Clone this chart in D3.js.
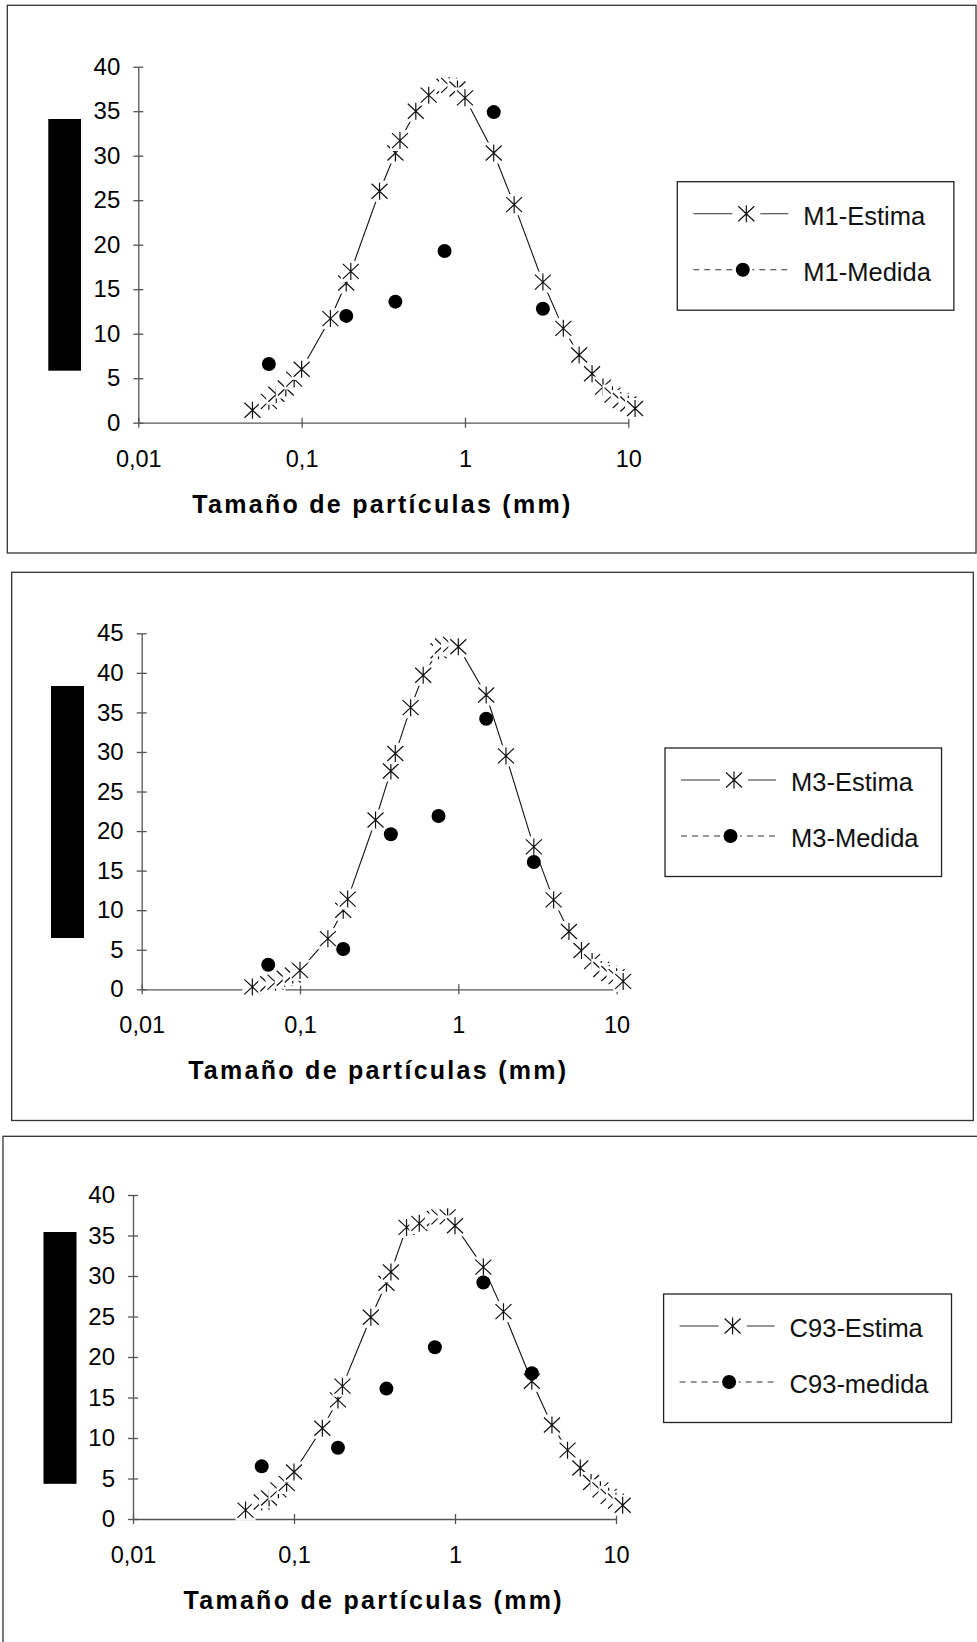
<!DOCTYPE html>
<html>
<head>
<meta charset="utf-8">
<script src="https://cdn.jsdelivr.net/npm/d3@7"></script>
<style>
  html, body { margin: 0; padding: 0; background: #fff; }
  svg { display: block; font-family: "Liberation Sans", Arial, sans-serif; }
</style>
</head>
<body>
<svg id="chart" width="977" height="1642"></svg>
<script>
// Particle sizes (mm) of the estimated distribution and of the sieve measurements
const sizesEstima = [0.05, 0.063, 0.07, 0.08, 0.09, 0.1, 0.15, 0.1875, 0.2, 0.3, 0.375, 0.4, 0.5, 0.6,
                     0.75, 0.8, 0.9, 1, 1.5, 2, 3, 4, 5, 6, 7, 8, 9, 10, 11];
const sizesMedida = [0.063, 0.1875, 0.375, 0.75, 1.5, 3];

// Sample M1
const m1Names  = ["M1-Estima", "M1-Medida"];
const m1Estima = [1.4, 2.4, 3.2, 3.9, 4.9, 6.0, 11.7, 15.7, 17.0, 26.0, 30.3, 31.7, 35.0, 36.8,
                  37.8, 37.9, 37.5, 36.5, 30.3, 24.5, 15.8, 10.6, 7.6, 5.5, 4.0, 3.1, 2.5, 2.1, 1.6];
const m1Medida = [6.6, 12.0, 13.6, 19.3, 34.9, 12.8];

// Sample M3
const m3Names  = ["M3-Estima", "M3-Medida"];
const m3Estima = [0.3, 0.7, 0.9, 1.4, 1.8, 2.4, 6.4, 10.0, 11.4, 21.4, 27.6, 29.8, 35.6, 39.7,
                  42.8, 43.4, 43.6, 43.3, 37.2, 29.5, 18.0, 11.3, 7.3, 4.9, 3.5, 2.5, 2.0, 1.6, 1.0];
const m3Medida = [3.1, 5.1, 19.6, 21.9, 34.2, 16.1];

// Sample C93
const c93Names  = ["C93-Estima", "C93-medida"];
const c93Estima = [1.1, 2.1, 2.6, 3.6, 4.4, 5.8, 11.2, 14.7, 16.4, 24.9, 29.1, 30.5, 36.0, 36.5,
                   37.1, 37.3, 37.3, 36.2, 31.1, 25.6, 17.0, 11.6, 8.5, 6.3, 4.5, 3.6, 2.8, 2.2, 1.7];
const c93Medida = [6.5, 8.8, 16.1, 21.2, 29.2, 18.0];

// Axis ticks
const xTickValues = [0.01, 0.1, 1, 10];
const xTickLabels = ["0,01", "0,1", "1", "10"];
const yTicks40 = [0, 5, 10, 15, 20, 25, 30, 35, 40];
const yTicks45 = [0, 5, 10, 15, 20, 25, 30, 35, 40, 45];
const xTitle = "Tamaño de partículas (mm)";

// Page layout of the three stacked charts
const panels = [
  { names: m1Names, estima: m1Estima, medida: m1Medida, yTicks: yTicks40,
    frame: { x0: 7.3, y0: 5.3, x1: 976, y1: 553 },
    plot: { left: 138.3, right: 628.3, top: 66.7, bottom: 422.7 },
    bar: { x: 48.3, y: 119, w: 32.7, h: 251.7 },
    legend: { x: 677.3, y: 181.7 } },
  { names: m3Names, estima: m3Estima, medida: m3Medida, yTicks: yTicks45,
    frame: { x0: 11.7, y0: 572.3, x1: 973.3, y1: 1120.5 },
    plot: { left: 141.7, right: 616.6, top: 633.3, bottom: 989.3 },
    bar: { x: 51, y: 686, w: 33, h: 252 },
    legend: { x: 665, y: 748 } },
  { names: c93Names, estima: c93Estima, medida: c93Medida, yTicks: yTicks40,
    frame: { x0: 3, y0: 1136.3, x1: 995, y1: 1665 },
    plot: { left: 133, right: 616, top: 1195, bottom: 1519 },
    bar: { x: 43.5, y: 1232, w: 33, h: 251.8 },
    legend: { x: 663.6, y: 1294 } }
];

// Star marker: an X crossed by a vertical bar
const starSymbol = {
  draw(ctx) {
    const a = 8, b = 7.5, c = 8.5;
    ctx.moveTo(-a, -b); ctx.lineTo(a, b);
    ctx.moveTo(-a, b);  ctx.lineTo(a, -b);
    ctx.moveTo(0, -c);  ctx.lineTo(0, c);
  }
};
const starPath = d3.symbol().type(starSymbol)();

const svg = d3.select("#chart");
const AXIS = "#555";
const INK = "#111";
const DOT_R = 7;

// Star with its white marker background, which hides whatever lies below it
function drawStar(g, cx, cy, bgW, bgH) {
  g.append("rect")
    .attr("x", cx - bgW / 2).attr("y", cy - bgH / 2)
    .attr("width", bgW).attr("height", bgH)
    .attr("fill", "#fff");
  g.append("path")
    .attr("d", starPath)
    .attr("transform", `translate(${cx},${cy})`)
    .attr("fill", "none").attr("stroke", INK).attr("stroke-width", 1.2);
}

panels.forEach(p => {
  const g = svg.append("g");

  // chart frame
  g.append("rect")
    .attr("x", p.frame.x0).attr("y", p.frame.y0)
    .attr("width", p.frame.x1 - p.frame.x0).attr("height", p.frame.y1 - p.frame.y0)
    .attr("fill", "none").attr("stroke", "#333").attr("stroke-width", 1.3);

  // vertical title block
  g.append("rect")
    .attr("x", p.bar.x).attr("y", p.bar.y)
    .attr("width", p.bar.w).attr("height", p.bar.h)
    .attr("fill", "#000");

  const yMax = p.yTicks[p.yTicks.length - 1];
  const x = d3.scaleLog().domain([0.01, 10]).range([p.plot.left, p.plot.right]);
  const y = d3.scaleLinear().domain([0, yMax]).range([p.plot.bottom, p.plot.top]);

  // y axis, ticks crossing the line
  const yAxis = g.append("g")
    .attr("transform", `translate(${p.plot.left},0)`)
    .call(d3.axisLeft(y).tickValues(p.yTicks).tickSize(5).tickSizeOuter(0).tickPadding(13));
  yAxis.select(".domain").attr("stroke", AXIS).attr("stroke-width", 1.3);
  yAxis.selectAll(".tick line").attr("x1", 5).attr("stroke", AXIS).attr("stroke-width", 1.3);
  yAxis.selectAll(".tick text")
    .attr("font-size", 24).attr("fill", "#000")
    .attr("font-family", "'Liberation Sans', Arial, sans-serif");

  // x axis (log), ticks crossing the line
  const xAxis = g.append("g")
    .attr("transform", `translate(0,${p.plot.bottom})`)
    .call(d3.axisBottom(x).tickValues(xTickValues)
      .tickFormat((d, i) => xTickLabels[i]).tickSize(5).tickSizeOuter(0));
  xAxis.select(".domain").attr("stroke", AXIS).attr("stroke-width", 1.3);
  xAxis.selectAll(".tick line").attr("y1", -5).attr("stroke", AXIS).attr("stroke-width", 1.3);
  xAxis.selectAll(".tick text")
    .attr("y", 44).attr("dy", 0)
    .attr("font-size", 23.5).attr("fill", "#000")
    .attr("font-family", "'Liberation Sans', Arial, sans-serif");

  // x axis title
  g.append("text")
    .attr("x", (p.plot.left + p.plot.right) / 2 - 2)
    .attr("y", p.plot.bottom + 90)
    .attr("text-anchor", "middle")
    .attr("font-size", 25).attr("font-weight", "bold")
    .attr("textLength", 378).attr("lengthAdjust", "spacing")
    .text(xTitle);

  // estimated curve
  const estPts = sizesEstima.map((s, i) => ({ s, v: p.estima[i] }));
  g.append("path")
    .datum(estPts)
    .attr("d", d3.line().x(d => x(d.s)).y(d => y(d.v)))
    .attr("fill", "none").attr("stroke", INK).attr("stroke-width", 1.1);

  const stars = g.append("g");
  estPts.forEach(d => drawStar(stars, x(d.s), y(d.v), 20, 21));

  // measured points
  const medPts = sizesMedida.map((s, i) => ({ s, v: p.medida[i] }));
  g.append("g").selectAll("circle")
    .data(medPts).join("circle")
    .attr("cx", d => x(d.s)).attr("cy", d => y(d.v))
    .attr("r", DOT_R).attr("fill", "#000");

  // legend
  const lg = g.append("g").attr("transform", `translate(${p.legend.x},${p.legend.y})`);
  const box = lg.append("rect")
    .attr("height", 128.5)
    .attr("fill", "#fff").attr("stroke", "#222").attr("stroke-width", 1.3);
  const rows = [32, 88];

  lg.append("line")
    .attr("x1", 16).attr("x2", 111).attr("y1", rows[0]).attr("y2", rows[0])
    .attr("stroke", "#333").attr("stroke-width", 1.1);
  drawStar(lg, 69, rows[0], 28, 20);

  lg.append("line")
    .attr("x1", 16).attr("x2", 111).attr("y1", rows[1]).attr("y2", rows[1])
    .attr("stroke", "#333").attr("stroke-width", 1.1).attr("stroke-dasharray", "6,5");
  lg.append("rect")
    .attr("x", 56).attr("y", rows[1] - 9).attr("width", 19).attr("height", 18).attr("fill", "#fff");
  lg.append("circle").attr("cx", 65.5).attr("cy", rows[1]).attr("r", DOT_R).attr("fill", "#000");

  let maxW = 0;
  p.names.forEach((n, i) => {
    const t = lg.append("text")
      .attr("x", 126).attr("y", rows[i] + 11)
      .attr("font-size", 25.5).attr("fill", "#111")
      .text(n);
    maxW = Math.max(maxW, t.node().getComputedTextLength());
  });
  box.attr("width", 126 + maxW + 23);
});
</script>
</body>
</html>
